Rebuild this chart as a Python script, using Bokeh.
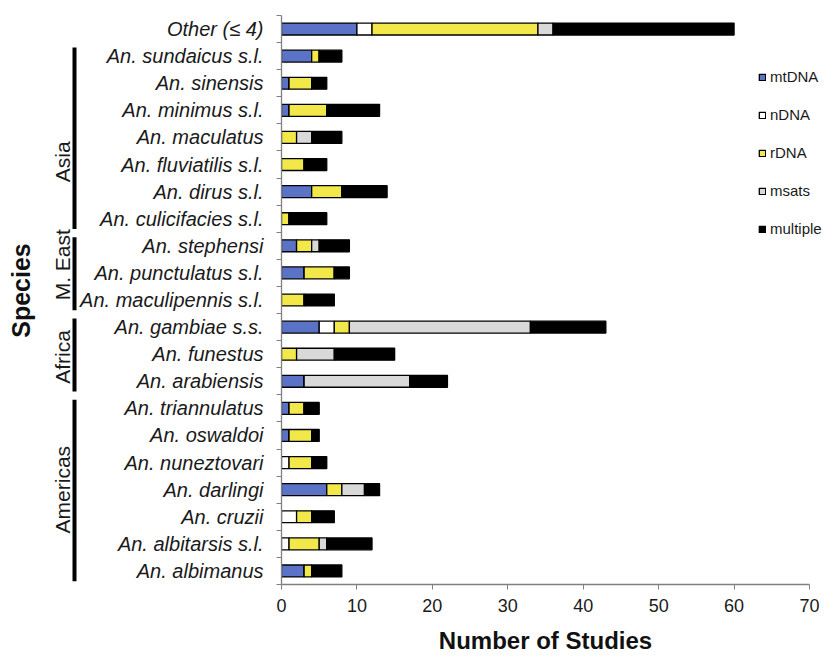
import math
from bokeh.plotting import figure
from bokeh.layouts import row, column
from bokeh.models import Range1d, FixedTicker, ColumnDataSource, Legend, LegendItem
from bokeh.core.properties import value
from bokeh.embed import file_html
from bokeh.resources import INLINE

# ---------------- data ----------------
species = [
    "Other (≤ 4)", "An. sundaicus s.l.", "An. sinensis", "An. minimus s.l.",
    "An. maculatus", "An. fluviatilis s.l.", "An. dirus s.l.", "An. culicifacies s.l.",
    "An. stephensi", "An. punctulatus s.l.", "An. maculipennis s.l.",
    "An. gambiae s.s.", "An. funestus", "An. arabiensis",
    "An. triannulatus", "An. oswaldoi", "An. nuneztovari", "An. darlingi",
    "An. cruzii", "An. albitarsis s.l.", "An. albimanus",
]
mtDNA    = [10, 4, 1, 1, 0, 0, 4, 0, 2, 3, 0, 5, 0, 3, 1, 1, 0, 6, 0, 0, 3]
nDNA     = [2, 0, 0, 0, 0, 0, 0, 0, 0, 0, 0, 2, 0, 0, 0, 0, 1, 0, 2, 1, 0]
rDNA     = [22, 1, 3, 5, 2, 3, 4, 1, 2, 4, 3, 2, 2, 0, 2, 3, 3, 2, 2, 4, 1]
msats    = [2, 0, 0, 0, 2, 0, 0, 0, 1, 0, 0, 24, 5, 14, 0, 0, 0, 3, 0, 1, 0]
multiple = [24, 3, 2, 7, 4, 3, 6, 5, 4, 2, 4, 10, 8, 5, 2, 1, 2, 2, 3, 6, 4]

series_names = ["mtDNA", "nDNA", "rDNA", "msats", "multiple"]
x_ticks = [0, 10, 20, 30, 40, 50, 60, 70]
x_max = 70

groups = ["Asia", "M. East", "Africa", "Americas"]
group_first = [1, 8, 11, 14]
group_last = [7, 10, 13, 20]

x_title = "Number of Studies"
y_title = "Species"

# ---------------- styling / layout ----------------
colors = ["#5B73C6", "#FFFFFF", "#F3E84A", "#D9D9D9", "#000000"]
FONT = "Liberation Sans"
W = 831
H_TOP = 624
H_TITLE = 32
TOP = 15
FRAME_BOTTOM = 584
LEFT_W = 271
FRAME_L = 281
AXIS_END_PX = 809
RIGHT_B = 2
MAIN_W = W - LEFT_W
frame_right = W - RIGHT_B
x_end = x_max * (frame_right - FRAME_L) / (AXIS_END_PX - FRAME_L)

ypos = list(range(len(species)))
src = ColumnDataSource(dict(y=ypos, mtDNA=mtDNA, nDNA=nDNA, rDNA=rDNA,
                            msats=msats, multiple=multiple))

y_range = Range1d(len(species) - 0.5, -0.5)

# ---------------- main plot ----------------
p = figure(width=MAIN_W, height=H_TOP, x_range=Range1d(0, x_end), y_range=y_range,
           min_border_left=FRAME_L - LEFT_W, min_border_right=RIGHT_B, min_border_top=TOP,
           min_border_bottom=H_TOP - FRAME_BOTTOM, toolbar_location=None,
           output_backend="svg")
p.outline_line_color = None
p.grid.visible = False

rs = p.hbar_stack(series_names, y="y", height=0.44, fill_color=colors,
                  line_color="black", line_width=1.3, source=src)

# y axis: only the boundary tick marks (names are drawn in the left panel)
yax = p.yaxis[0]
yax.ticker = FixedTicker(ticks=[], minor_ticks=[i - 0.5 for i in range(len(species) + 1)])
yax.major_label_standoff = 0
yax.major_tick_out = 0
yax.major_tick_in = 0
yax.minor_tick_out = 5
yax.minor_tick_in = 0
yax.minor_tick_line_color = "#808080"
yax.axis_line_color = "#808080"
yax.axis_line_width = 1.3

xax = p.xaxis[0]
xax.bounds = (0, x_max)
xax.ticker = FixedTicker(ticks=x_ticks)
xax.major_tick_out = 5
xax.major_tick_in = 0
xax.minor_tick_out = 0
xax.minor_tick_in = 0
xax.major_tick_line_color = "#808080"
xax.axis_line_color = "#808080"
xax.axis_line_width = 1.3
xax.major_label_text_font = FONT
xax.major_label_text_font_size = "18px"
xax.major_label_text_color = "#1a1a1a"
xax.major_label_standoff = 9

legend = Legend(items=[LegendItem(label=n, renderers=[r]) for n, r in zip(series_names, rs)],
                location=(477, 347), padding=0, margin=0, spacing=21,
                glyph_width=8, glyph_height=8, label_height=17, label_standoff=4,
                label_text_font=FONT, label_text_font_size="15px",
                label_text_color="#1a1a1a", background_fill_alpha=0,
                border_line_color=None)
p.add_layout(legend)

# ---------------- left panel: species names, group brackets, y title ----------------
p0 = figure(width=LEFT_W, height=H_TOP, x_range=Range1d(0, LEFT_W), y_range=y_range,
            min_border_left=0, min_border_right=0, min_border_top=TOP,
            min_border_bottom=H_TOP - FRAME_BOTTOM, toolbar_location=None,
            output_backend="svg")
p0.axis.visible = False
p0.grid.visible = False
p0.outline_line_color = None

p0.text(x=[LEFT_W - 8] * len(species), y=ypos, text=species, text_align="right",
        text_baseline="middle", text_font=value(FONT), text_font_style="italic",
        text_font_size="20px", text_color="#1a1a1a")

bar_x = 74
p0.segment(x0=[bar_x] * len(groups), x1=[bar_x] * len(groups),
           y0=[f - 0.32 for f in group_first], y1=[l + 0.38 for l in group_last],
           line_color="black", line_width=4)
label_shift = [0.9, -0.3, 0.1, 0.0]
p0.text(x=[62] * len(groups),
        y=[(f + l) / 2 + s for f, l, s in zip(group_first, group_last, label_shift)],
        text=groups, angle=math.pi / 2, text_align="center", text_baseline="middle",
        text_font=value(FONT), text_font_size="21px", text_color="#1a1a1a")
p0.text(x=[20], y=[(len(species) - 1) / 2 - 0.35], text=[y_title], angle=math.pi / 2,
        text_align="center", text_baseline="middle", text_font=value(FONT),
        text_font_size="25px", text_font_style="bold", text_color="#111111")

# ---------------- bottom strip: x title ----------------
pt = figure(width=W, height=H_TITLE, x_range=Range1d(0, W), y_range=Range1d(H_TITLE, 0),
            min_border=0, toolbar_location=None, output_backend="svg")
pt.axis.visible = False
pt.grid.visible = False
pt.outline_line_color = None
pt.text(x=[(FRAME_L + AXIS_END_PX) / 2], y=[16], text=[x_title], text_align="center",
        text_baseline="middle", text_font=value(FONT), text_font_style="bold",
        text_font_size="24px", text_color="#111111")

layout = column(row(p0, p), pt)
open("out.html", "w").write(file_html(layout, INLINE))
